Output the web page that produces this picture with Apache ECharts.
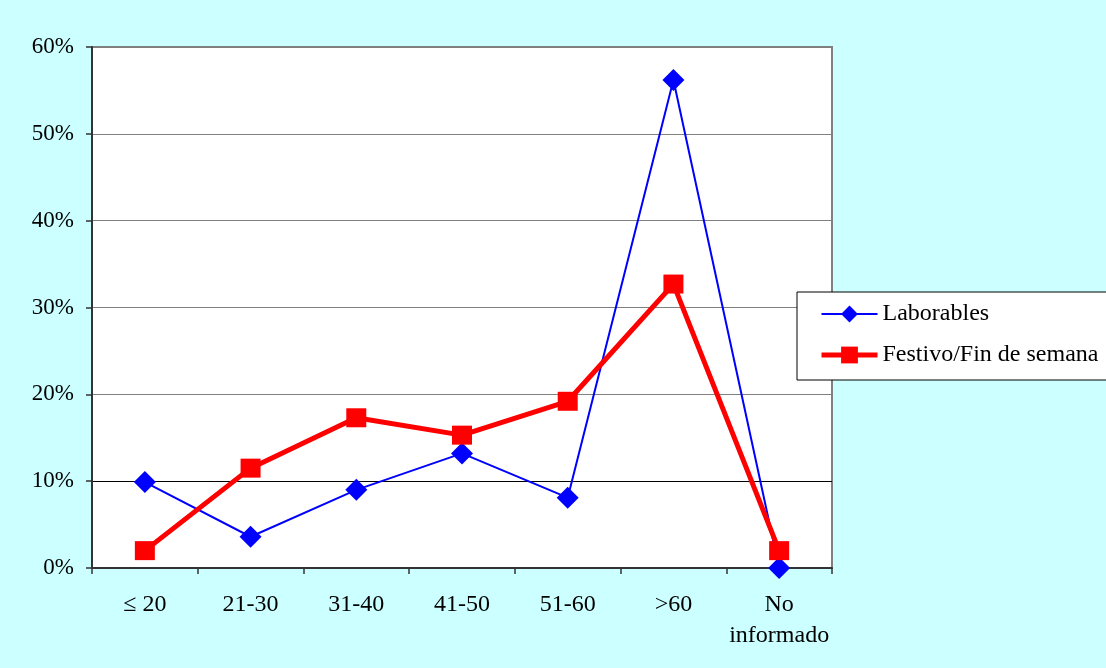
<!DOCTYPE html>
<html>
<head>
<meta charset="utf-8">
<script src="https://cdn.jsdelivr.net/npm/echarts@6/dist/echarts.min.js"></script>
<style>
html,body{margin:0;padding:0;background:#CCFFFF;}
#c{width:1106px;height:668px;}
</style>
</head>
<body>
<div id="c"></div>
<script>
const categories = ['\u2264 20', '21-30', '31-40', '41-50', '51-60', '>60', 'No\ninformado'];
const laborables = [9.9, 3.6, 9.0, 13.2, 8.1, 56.2, 0.0];
const festivo = [2.0, 11.5, 17.3, 15.3, 19.2, 32.7, 2.0];
const yTicks = [0, 10, 20, 30, 40, 50, 60];

const FONT = 'Liberation Serif';
const chart = echarts.init(document.getElementById('c'), null, {renderer: 'canvas'});
chart.setOption({
  backgroundColor: '#CCFFFF',
  animation: false,
  textStyle: {fontFamily: FONT, color: '#000'},
  grid: {
    left: 92, right: 274, top: 47, bottom: 100,
    show: true, backgroundColor: '#FFFFFF', borderColor: '#808080', borderWidth: 2
  },
  legend: {
    orient: 'vertical',
    left: 797, top: 292,
    backgroundColor: '#FFFFFF',
    borderColor: '#000000',
    borderWidth: 1,
    padding: [10, 20, 13, 22],
    itemGap: 17,
    itemWidth: 56,
    itemHeight: 21,
    textStyle: {fontFamily: FONT, fontSize: 24, color: '#000', padding: [0, 0, 0, 0]},
    data: [
      {name: 'Laborables', lineStyle: {width: 2, color: '#0000FF'}},
      {name: 'Festivo/Fin de semana', lineStyle: {width: 5, color: '#FF0000'}}
    ]
  },
  xAxis: {
    type: 'category',
    data: categories,
    boundaryGap: true,
    axisLine: {show: true, lineStyle: {color: '#333', width: 2}},
    axisTick: {show: true, length: 6, interval: 0, alignWithLabel: false, lineStyle: {color: '#333', width: 1.5}},
    axisLabel: {fontFamily: FONT, fontSize: 24, color: '#000', margin: 21, lineHeight: 31, interval: 0, verticalAlign: 'top'},
    splitLine: {show: false}
  },
  yAxis: {
    type: 'value',
    min: yTicks[0], max: yTicks[yTicks.length - 1], interval: 10,
    axisLine: {show: true, lineStyle: {color: '#333', width: 2}},
    axisTick: {show: true, length: 6, lineStyle: {color: '#333', width: 1.5}},
    axisLabel: {fontFamily: FONT, fontSize: 23, color: '#000', margin: 18, formatter: '{value}%'},
    splitLine: {show: true, lineStyle: {color: ['#000000', '#000000', '#808080', '#808080', '#808080', '#808080', '#808080'], width: 1.2}}
  },
  series: [
    {
      name: 'Laborables',
      type: 'line',
      data: laborables,
      symbol: 'diamond',
      symbolSize: 22,
      color: '#0000FF',
      lineStyle: {color: '#0000FF', width: 2},
      itemStyle: {color: '#0000FF'},
      z: 2
    },
    {
      name: 'Festivo/Fin de semana',
      type: 'line',
      data: festivo,
      symbol: 'rect',
      symbolSize: [20, 19],
      color: '#FF0000',
      lineStyle: {color: '#FF0000', width: 5},
      itemStyle: {color: '#FF0000'},
      z: 3
    }
  ]
});
</script>
</body>
</html>
